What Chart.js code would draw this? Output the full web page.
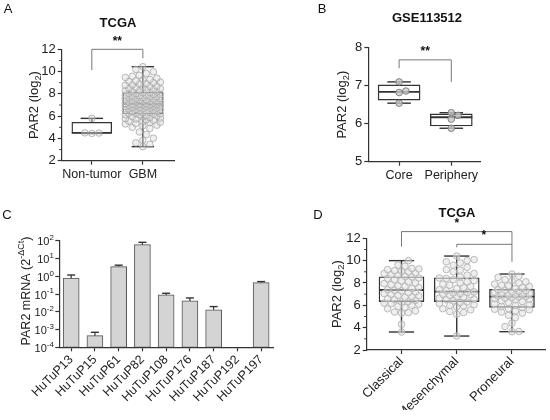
<!DOCTYPE html>
<html>
<head>
<meta charset="utf-8">
<script src="https://cdn.jsdelivr.net/npm/chart.js@4.4.1/dist/chart.umd.min.js"></script>
<style>
  html, body { margin: 0; padding: 0; background: #fff; }
  #wrap { position: relative; width: 550px; height: 420px; }
  canvas { position: absolute; left: 0; top: 0; }
</style>
</head>
<body>
<div id="wrap">
  <canvas id="chartA" width="550" height="420"></canvas>
  <canvas id="chartB" width="550" height="420"></canvas>
  <canvas id="chartC" width="550" height="420"></canvas>
  <canvas id="chartD" width="550" height="420"></canvas>
</div>
<script>
// ---- Data ----

// A: TCGA, Non-tumor vs GBM  (box stats: min, q1, median, q3, max)
const labelsA = [`Non-tumor`, `GBM`];
const statsA = [[4.45, 4.47, 4.5, 5.45, 5.8], [3.26, 6.19, 7.09, 8.14, 10.44]];
const pointsNonTumor = [5.8, 4.5, 4.48, 4.45];
const pointsGBM = [3.26, 3.47, 3.6, 3.83, 4.02, 4.35, 4.58, 4.9, 5.0, 5.14, 5.19, 5.3, 5.33, 5.42, 5.45, 5.53, 5.56, 5.63, 5.66, 5.74, 5.77, 5.83, 5.87, 5.94, 5.96, 6.03, 6.05, 6.11, 6.13, 6.18,
  6.2, 6.25, 6.27, 6.32, 6.34, 6.39, 6.41, 6.45, 6.47, 6.52, 6.54, 6.59, 6.6, 6.65, 6.67, 6.72, 6.73, 6.79, 6.8, 6.85, 6.86, 6.91, 6.92, 6.96, 6.97, 7.01, 7.02, 7.05, 7.07, 7.09,
  7.12, 7.13, 7.18, 7.2, 7.25, 7.26, 7.32, 7.33, 7.38, 7.4, 7.45, 7.47, 7.52, 7.54, 7.59, 7.61, 7.66, 7.68, 7.73, 7.75, 7.8, 7.82, 7.87, 7.89, 7.95, 7.96, 8.02, 8.04, 8.1, 8.13,
  8.18, 8.21, 8.27, 8.3, 8.37, 8.39, 8.46, 8.49, 8.57, 8.6, 8.67, 8.7, 8.78, 8.82, 8.89, 8.93, 9.01, 9.05, 9.13, 9.17, 9.26, 9.3, 9.41, 9.47, 9.58, 9.66, 9.84, 9.98, 10.2, 10.44];

// B: GSE113512, Core vs Periphery
const labelsB = [`Core`, `Periphery`];
const statsB = [[6.54, 6.62, 6.84, 7.02, 7.1], [5.88, 5.94, 6.17, 6.26, 6.29]];
const pointsCore = [7.1, 6.86, 6.82, 6.54];
const pointsPeriphery = [6.29, 6.22, 6.12, 5.88];

// C: PAR2 mRNA in HuTuP lines (mean and top of error bar)
const labelsC = [`HuTuP13`, `HuTuP15`, `HuTuP61`, `HuTuP82`, `HuTuP108`, `HuTuP176`, `HuTuP187`, `HuTuP192`, `HuTuP197`];
const meanC = [0.78, 4.5e-4, 3.5, 60, 0.089, 0.041, 0.013, null, 0.44];
const errTopC = [1.17, 7e-4, 4.2, 81, 0.11, 0.06, 0.0196, null, 0.5];
const exponentsC = [-4, -3, -2, -1, 0, 1, 2];

// D: TCGA subtypes
const labelsD = [`Classical`, `Mesenchymal`, `Proneural`];
const statsD = [[3.61, 6.33, 7.37, 8.56, 10.0], [3.25, 6.33, 7.22, 8.47, 10.41], [3.64, 5.82, 6.77, 7.43, 8.8]];
const pointsClassical = [3.61, 4.3, 5.3, 5.35, 5.4, 5.5, 5.7, 5.8, 5.9, 6.0, 6.1, 6.15, 6.2, 6.3,
  6.35, 6.45, 6.5, 6.6, 6.7, 6.75, 6.85, 6.9, 7.0, 7.05, 7.15, 7.2, 7.3, 7.35,
  7.4, 7.5, 7.6, 7.7, 7.75, 7.85, 7.95, 8.0, 8.1, 8.2, 8.3, 8.4, 8.45, 8.55,
  8.6, 8.7, 8.75, 8.85, 8.9, 9.0, 9.05, 9.1, 9.2, 9.25, 9.3, 9.5, 9.6, 10.0];
const pointsMesenchymal = [3.25, 5.2, 5.35, 5.45, 5.6, 5.7, 5.85, 5.95, 6.0, 6.05, 6.15, 6.25, 6.3,
  6.4, 6.5, 6.55, 6.65, 6.75, 6.8, 6.9, 6.95, 7.0, 7.05, 7.1, 7.15, 7.2,
  7.3, 7.4, 7.5, 7.6, 7.7, 7.8, 7.9, 8.0, 8.1, 8.2, 8.3, 8.4, 8.45,
  8.55, 8.7, 8.85, 9.0, 9.15, 9.2, 9.4, 9.6, 9.8, 9.9, 10.0, 10.1, 10.41];
const pointsProneural = [3.64, 3.66, 4.1, 4.4, 4.9, 5.1, 5.3, 5.4, 5.5, 5.6, 5.65, 5.7, 5.8,
  5.9, 6.0, 6.05, 6.15, 6.25, 6.35, 6.4, 6.5, 6.55, 6.6, 6.65, 6.7, 6.75,
  6.8, 6.85, 6.9, 6.95, 7.0, 7.05, 7.1, 7.15, 7.2, 7.25, 7.3, 7.35, 7.4,
  7.5, 7.6, 7.7, 7.75, 7.8, 7.9, 8.0, 8.1, 8.2, 8.3, 8.5, 8.6, 8.8];

// ---- Helpers ----
const FONT = `"Liberation Sans", Arial, sans-serif`;
const AXIS = `#333`;
const Y_W = 40, X_H = 60;

// simple beeswarm so the dots spread sideways instead of stacking
const swarm = (values, center, pxX, pxY, diam, halfMax) => {
  const placed = [];
  const out = [];
  const step = diam * 0.5;
  const n = Math.floor(halfMax / step);
  values.slice().sort((a, b) => a - b).forEach(v => {
    const py = v * pxY;
    let pick = 0, bestD = -1;
    for (let k = 0; k <= 2 * n; k++) {
      const off = (k % 2 ? 1 : -1) * Math.ceil(k / 2) * step;
      let dmin = Infinity;
      placed.forEach(p => {
        const d = Math.hypot(p[0] - off, p[1] - py);
        if (d < dmin) dmin = d;
      });
      if (dmin >= diam * 0.9) { pick = off; break; }
      if (dmin > bestD) { bestD = dmin; pick = off; }
    }
    placed.push([pick, py]);
    out.push({x: center + pick / pxX, y: v});
  });
  return out;
};

// text with sub/superscript parts, centred (or right aligned) on x,y
const richText = (ctx, parts, x, y, rot, size, align) => {
  ctx.save();
  ctx.translate(x, y);
  ctx.rotate(rot);
  ctx.textBaseline = `middle`;
  ctx.textAlign = `left`;
  ctx.fillStyle = `#222`;
  let total = 0;
  parts.forEach(p => {
    ctx.font = `${p.s ? size * 0.72 : size}px ${FONT}`;
    p.w = ctx.measureText(p.t).width;
    total += p.w;
  });
  let cx = align === `right` ? -total : -total / 2;
  parts.forEach(p => {
    ctx.font = `${p.s ? size * 0.72 : size}px ${FONT}`;
    const dy = p.s === `sub` ? size * 0.3 : p.s === `sup` ? -size * 0.4 : 0;
    ctx.fillText(p.t, cx, dy);
    cx += p.w;
  });
  ctx.restore();
};

const label = (ctx, text, x, y, font) => {
  ctx.save();
  ctx.font = font;
  ctx.fillStyle = `#111`;
  ctx.textAlign = `center`;
  ctx.textBaseline = `middle`;
  ctx.fillText(text, x, y);
  ctx.restore();
};

const line = (ctx, pts, color, width) => {
  ctx.save();
  ctx.strokeStyle = color;
  ctx.lineWidth = width;
  ctx.beginPath();
  pts.forEach((p, i) => i ? ctx.lineTo(p[0], p[1]) : ctx.moveTo(p[0], p[1]));
  ctx.stroke();
  ctx.restore();
};

const padFor = (a) => ({left: a.l - Y_W, top: a.t, right: 550 - a.r, bottom: 420 - a.b - X_H});

// nudge the layout padding until the plot area sits where the figure has it
const fitArea = (chart, a) => {
  for (let k = 0; k < 3; k++) {
    const ca = chart.chartArea;
    const p = chart.options.layout.padding;
    p.left += a.l - ca.left;
    p.right += ca.right - a.r;
    p.top += a.t - ca.top;
    p.bottom += ca.bottom - a.b;
    chart.update();
  }
};

const xScale = (labels, min, max, size, rot, pad) => ({
  type: `linear`, min: min, max: max, offset: false,
  afterFit: (s) => { s.height = X_H; },
  afterBuildTicks: (s) => { s.ticks = labels.map((_, i) => ({value: i})); },
  border: {color: AXIS, width: 1.2},
  grid: {drawOnChartArea: false, offset: false, tickLength: 4, tickColor: AXIS, tickWidth: 1.2},
  ticks: {
    autoSkip: false, minRotation: rot, maxRotation: rot, padding: pad,
    color: `#222`, font: {family: FONT, size: size},
    callback: (v) => labels[v]
  }
});

const yScale = (min, max, step) => ({
  min: min, max: max,
  afterFit: (s) => { s.width = Y_W; },
  border: {color: AXIS, width: 1.2},
  grid: {drawOnChartArea: false, tickLength: 4, tickColor: AXIS, tickWidth: 1.2},
  ticks: {stepSize: step, padding: 2, color: `#222`, font: {family: FONT, size: 13}}
});

// box datasets (q1..q3 as floating bars)
const boxDataset = (stats, thick) => ({
  type: `bar`,
  data: stats.map((s, i) => ({x: i, y: [s[1], s[3]]})),
  backgroundColor: `#fff`,
  borderColor: AXIS,
  borderWidth: 1.4,
  borderSkipped: false,
  barThickness: thick,
  order: 2
});

const pointDataset = (pts, fill, stroke) => ({
  type: `scatter`,
  data: pts,
  pointRadius: 3.3,
  pointBorderWidth: 0.9,
  backgroundColor: fill,
  borderColor: stroke,
  order: 1
});

// whiskers and medians drawn right after the box dataset
const boxPlugin = (stats, boxW) => ({
  id: `boxes`,
  afterDatasetDraw: (chart, args) => {
    if (args.index !== 0) return;
    const {ctx, scales: {x, y}} = chart;
    stats.forEach((s, i) => {
      const cx = x.getPixelForValue(i);
      const cap = boxW * 0.28;
      line(ctx, [[cx, y.getPixelForValue(s[3])], [cx, y.getPixelForValue(s[4])]], AXIS, 1.4);
      line(ctx, [[cx, y.getPixelForValue(s[1])], [cx, y.getPixelForValue(s[0])]], AXIS, 1.4);
      line(ctx, [[cx - cap, y.getPixelForValue(s[4])], [cx + cap, y.getPixelForValue(s[4])]], AXIS, 1.4);
      line(ctx, [[cx - cap, y.getPixelForValue(s[0])], [cx + cap, y.getPixelForValue(s[0])]], AXIS, 1.4);
      line(ctx, [[cx - boxW / 2, y.getPixelForValue(s[2])], [cx + boxW / 2, y.getPixelForValue(s[2])]], AXIS, 1.8);
    });
  }
});

const minorTicks = (chart, vals) => {
  const {ctx, scales: {y}} = chart;
  vals.forEach(v => {
    const py = y.getPixelForValue(v);
    line(ctx, [[y.right, py], [y.right - 2.5, py]], AXIS, 1);
  });
};

const baseOptions = (area) => ({
  responsive: false,
  animation: false,
  layout: {padding: padFor(area)},
  plugins: {legend: {display: false}, tooltip: {enabled: false}, title: {display: false}}
});

// ---- Panel A ----
const areaA = {l: 61.7, r: 174, t: 49.3, b: 160.7};
const ptsA = swarm(pointsNonTumor, 0, 51, 11.14, 7, 16).concat(swarm(pointsGBM, 1, 51, 11.14, 7, 19));
const chartA = new Chart(document.getElementById(`chartA`), {
  type: `bar`,
  data: {datasets: [boxDataset(statsA, 40), pointDataset(ptsA, `rgba(220,220,220,0.45)`, `rgba(160,160,160,0.8)`)]},
  options: Object.assign(baseOptions(areaA), {
    scales: {x: xScale(labelsA, -0.59, 1.61, 12.5, 0, 2), y: yScale(2, 12, 2)}
  }),
  plugins: [boxPlugin(statsA, 40), {
    id: `decorA`,
    afterDraw: (chart) => {
      const {ctx, chartArea: ca, scales: {x, y}} = chart;
      minorTicks(chart, [3, 5, 7, 9, 11]);
      label(ctx, `A`, 8, 9, `13px ${FONT}`);
      label(ctx, `TCGA`, 118, 23, `bold 13px ${FONT}`);
      line(ctx, [[x.getPixelForValue(0), y.getPixelForValue(10.14)], [x.getPixelForValue(0), y.getPixelForValue(12)],
        [x.getPixelForValue(1), y.getPixelForValue(12)], [x.getPixelForValue(1), y.getPixelForValue(11.2)]], `#777`, 1);
      label(ctx, `**`, x.getPixelForValue(0.5), y.getPixelForValue(12.7), `bold 12px ${FONT}`);
      richText(ctx, [{t: `PAR2 (log`}, {t: `2`, s: `sub`}, {t: `)`}], ca.left - 27, (ca.top + ca.bottom) / 2, -Math.PI / 2, 13);
    }
  }]
});
fitArea(chartA, areaA);

// ---- Panel B ----
const areaB = {l: 368.3, r: 480, t: 47.7, b: 161.7};
const ptsB = swarm(pointsCore, 0, 54, 38, 7, 16).concat(swarm(pointsPeriphery, 1, 54, 38, 7, 16));
const chartB = new Chart(document.getElementById(`chartB`), {
  type: `bar`,
  data: {datasets: [boxDataset(statsB, 42), pointDataset(ptsB, `rgba(200,200,200,0.8)`, `#777`)]},
  options: Object.assign(baseOptions(areaB), {
    scales: {x: xScale(labelsB, -0.59, 1.55, 12.5, 0, 2), y: yScale(5, 8, 1)}
  }),
  plugins: [boxPlugin(statsB, 42), {
    id: `decorB`,
    afterDraw: (chart) => {
      const {ctx, chartArea: ca, scales: {x, y}} = chart;
      label(ctx, `B`, 322, 9, `13px ${FONT}`);
      label(ctx, `GSE113512`, 427, 18, `bold 13px ${FONT}`);
      line(ctx, [[x.getPixelForValue(0), y.getPixelForValue(7.46)], [x.getPixelForValue(0), y.getPixelForValue(7.68)],
        [x.getPixelForValue(1), y.getPixelForValue(7.68)], [x.getPixelForValue(1), y.getPixelForValue(7.1)]], `#777`, 1);
      label(ctx, `**`, x.getPixelForValue(0.5), y.getPixelForValue(7.9), `bold 12px ${FONT}`);
      richText(ctx, [{t: `PAR2 (log`}, {t: `2`, s: `sub`}, {t: `)`}], ca.left - 26, (ca.top + ca.bottom) / 2, -Math.PI / 2, 13);
    }
  }]
});
fitArea(chartB, areaB);

// ---- Panel C ----
const areaC = {l: 59.3, r: 273, t: 240.7, b: 347.3};
const barsC = [];
meanC.forEach((v, i) => { if (v !== null) barsC.push({x: i, y: [1e-4, v]}); });
const chartC = new Chart(document.getElementById(`chartC`), {
  type: `bar`,
  data: {datasets: [{
    data: barsC,
    backgroundColor: `#d4d4d4`,
    borderColor: `#555`,
    borderWidth: 1,
    borderSkipped: false,
    barThickness: 16
  }]},
  options: Object.assign(baseOptions(areaC), {
    scales: {
      x: xScale(labelsC, -0.5, 8.5, 12.5, 45, 1),
      y: {
        type: `logarithmic`, min: 1e-4, max: 100,
        afterFit: (s) => { s.width = Y_W; },
        afterBuildTicks: (s) => { s.ticks = exponentsC.map(e => ({value: Math.pow(10, e)})); },
        border: {color: AXIS, width: 1.2},
        grid: {drawOnChartArea: false, tickLength: 4, tickColor: AXIS, tickWidth: 1.2},
        ticks: {autoSkip: false, callback: () => ``}
      }
    }
  }),
  plugins: [{
    id: `decorC`,
    afterDraw: (chart) => {
      const {ctx, chartArea: ca, scales: {x, y}} = chart;
      // error bars (upper only)
      meanC.forEach((v, i) => {
        if (v === null) return;
        const cx = x.getPixelForValue(i);
        const top = y.getPixelForValue(errTopC[i]);
        line(ctx, [[cx, y.getPixelForValue(v)], [cx, top]], `#333`, 1.2);
        line(ctx, [[cx - 4, top], [cx + 4, top]], `#333`, 1.4);
      });
      exponentsC.forEach(e => {
        richText(ctx, [{t: `10`}, {t: `${e}`, s: `sup`}], ca.left - 5.5, y.getPixelForValue(Math.pow(10, e)) + 1.5, 0, 11, `right`);
      });
      label(ctx, `C`, 7, 215, `13px ${FONT}`);
      richText(ctx, [{t: `PAR2 mRNA (2`}, {t: `-ΔCt`, s: `sup`}, {t: `)`}], 27, 291, -Math.PI / 2, 12.5);
    }
  }]
});
fitArea(chartC, areaC);

// ---- Panel D ----
const areaD = {l: 366.7, r: 546.7, t: 238.3, b: 350};
const ptsD = swarm(pointsClassical, 0, 55.7, 11.17, 7, 19)
  .concat(swarm(pointsMesenchymal, 1, 55.7, 11.17, 7, 19))
  .concat(swarm(pointsProneural, 2, 55.7, 11.17, 7, 19));
const chartD = new Chart(document.getElementById(`chartD`), {
  type: `bar`,
  data: {datasets: [boxDataset(statsD, 45), pointDataset(ptsD, `rgba(225,225,225,0.55)`, `#b3b3b3`)]},
  options: Object.assign(baseOptions(areaD), {
    scales: {x: xScale(labelsD, -0.63, 2.6, 13, 45, 0), y: yScale(2, 12, 2)}
  }),
  plugins: [boxPlugin(statsD, 45), {
    id: `decorD`,
    afterDraw: (chart) => {
      const {ctx, chartArea: ca, scales: {x, y}} = chart;
      minorTicks(chart, [3, 5, 7, 9, 11]);
      label(ctx, `D`, 318, 215, `13px ${FONT}`);
      label(ctx, `TCGA`, 457, 213, `bold 13px ${FONT}`);
      line(ctx, [[x.getPixelForValue(0), y.getPixelForValue(11.25)], [x.getPixelForValue(0), y.getPixelForValue(12.6)],
        [x.getPixelForValue(2), y.getPixelForValue(12.6)], [x.getPixelForValue(2), y.getPixelForValue(9.9)]], `#777`, 1);
      line(ctx, [[x.getPixelForValue(1), y.getPixelForValue(11.2)], [x.getPixelForValue(1), y.getPixelForValue(11.46)],
        [x.getPixelForValue(2), y.getPixelForValue(11.46)]], `#777`, 1);
      label(ctx, `*`, x.getPixelForValue(1), y.getPixelForValue(13.3), `bold 12px ${FONT}`);
      label(ctx, `*`, x.getPixelForValue(1.49), y.getPixelForValue(12.2), `bold 12px ${FONT}`);
      richText(ctx, [{t: `PAR2 (log`}, {t: `2`, s: `sub`}, {t: `)`}], ca.left - 29, (ca.top + ca.bottom) / 2, -Math.PI / 2, 13);
    }
  }]
});
fitArea(chartD, areaD);
</script>
</body>
</html>
